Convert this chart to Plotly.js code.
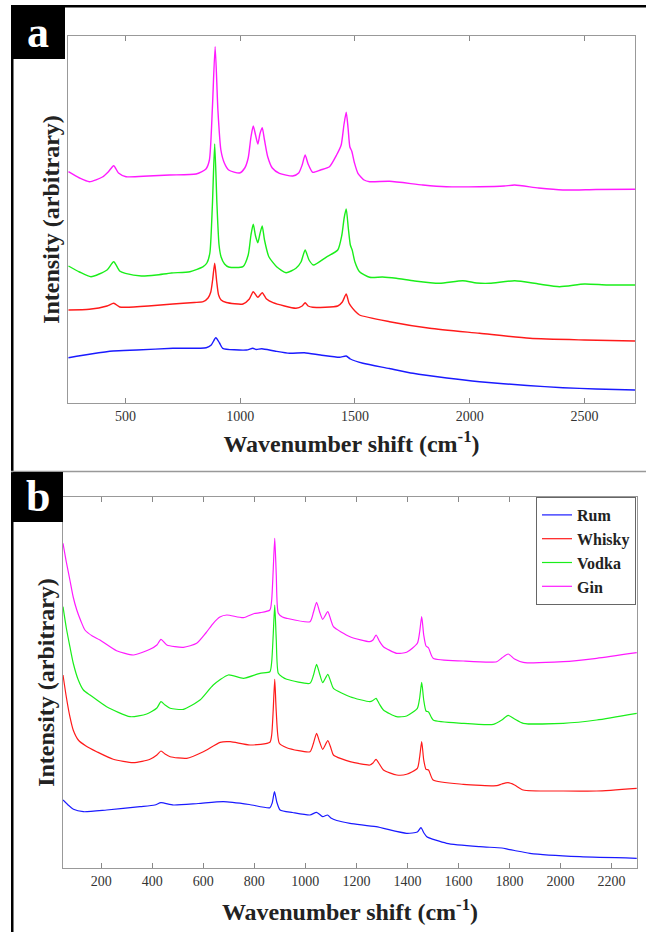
<!DOCTYPE html>
<html>
<head>
<meta charset="utf-8">
<script src="https://cdn.plot.ly/plotly-3.0.1.min.js"></script>
<style>html,body{margin:0;padding:0;background:#fff;}#chart{width:646px;height:932px;}</style>
</head>
<body>
<div id="chart"></div>
<script>
// ---------- Panel a data ----------
const aGinX = [252,300,343,400,425,449,470,503,600,692,808,851,866,879,891,903,916,931,950,997,1020,1035,1047,1057,1067,1077,1086,1096,1106,1120,1140,1171,1229,1255,1270,1283,1296,1316,1350,1389,1420,1440,1452,1462,1470,1478,1486,1498,1513,1540,1564,1651,1796,1898,2043,2150,2196,2300,2406,2550,2720];
const aGinY = [231.3,225,221.3,226,231,237.3,230,226.3,227,228,229,234,243,295,356.3,293,253,240,233,230,235,245,266,277,268,259,269,275.3,263,246.3,235,229.7,227,230,238,248,239,230.7,233,236.3,248,258,278,290.7,275,256,252,240,229.7,223,221.3,221.7,218,216.3,216.3,217,218,215,213,213.5,213.7];

const aVodkaX = [252,300,350,420,449,475,500,570,635,700,781,839,855,868,879,889,899,908,917,932,950,1012,1035,1047,1057,1067,1077,1086,1096,1106,1125,1160,1200,1243,1265,1283,1300,1319,1374,1425,1443,1453,1462,1471,1480,1488,1500,1520,1564,1620,1680,1760,1868,1970,2030,2087,2196,2300,2391,2500,2600,2720];
const aVodkaY = [137,131,126.3,133,141.3,132,129.7,127,128,130,131.3,136.3,140,150,198,259,198,158,146,139,136,136.3,148,168,178.7,167,160.3,169,177,163,146.3,136,130.3,134.7,141,153,143,138,145.7,153,168,185,194,175,158,153,141,131.3,125.7,126,124.7,122,119.7,122.3,120,119.7,122.3,119,116.3,119,118,118];

const aWhiskyX = [252,343,420,449,475,503,600,707,800,839,860,872,880,889,898,906,917,940,1012,1040,1057,1077,1096,1115,1143,1243,1270,1283,1296,1316,1425,1445,1462,1474,1484,1500,1520,1651,1826,2043,2262,2500,2720];
const aWhiskyY = [93,93.7,97,99.7,96,95.7,97,99,100.5,101.3,105,111,123,139.7,121,108,103,100.5,99,104,111.3,105.7,110.3,104,100.3,94.7,97,100.3,97,95.7,97,101,109,100,96.3,92,88,81.3,74.7,69.7,64.7,63,62];

const aRumX = [252,350,446,550,707,852,874,894,910,924,1027,1055,1070,1094,1150,1215,1280,1350,1433,1462,1480,1535,1650,1753,1900,2043,2250,2406,2550,2720];
const aRumY = [45.3,49,52,53,54.7,55.3,58,65.3,60,54.7,53,54.7,53.5,54.3,52,49.7,50.3,48,45.7,47,44,39.7,34.5,29.7,25,21.3,17.5,15.3,14,13];

// ---------- Panel b data ----------
const bGinX = [50,63,77,90,104,120,136,165,195,260,326,391,418,434,457,522,574,610,639,665,692,757,800,822,861,868,874,880,886,894,910,927,1018,1032,1044,1056,1068,1088,1100,1110,1175,1253,1265,1277,1290,1306,1358,1397,1439,1448,1456,1464,1473,1483,1501,1619,1750,1770,1795,1820,1854,2011,2142,2299];
const bGinY = [324.7,306,288,271,258,247,238,232,228,217.3,213,218.7,223,228.7,223,220.7,224.7,235,244.7,251,253,250.3,254.5,255.3,258,268,298,329.7,293,254.7,251,249.7,246.3,256,265.7,256,248.7,256.3,248,241.3,231.3,226.3,228,233,227,221.3,214.7,215.7,224.7,236,251.3,233,222,220,209.7,207,206.3,210,214,209,205.7,206.3,209.7,215.3];

const bVodkaX = [50,63,77,90,110,130,156,221,313,378,418,434,450,470,522,587,639,698,757,822,861,868,874,880,886,894,910,927,1018,1032,1044,1056,1068,1088,1100,1110,1175,1253,1265,1277,1290,1306,1358,1397,1439,1448,1456,1464,1473,1483,1501,1619,1737,1770,1795,1820,1854,2011,2142,2299];
const bVodkaY = [261.3,240,221.3,205,188,178,173,161.3,151.3,154,160,166.3,163,159.7,158.7,168,183,193,189.7,194.7,196.3,206,233,263,228,194.7,191,188.7,184.7,193,203.7,194,185.3,193.7,186,179.7,171.3,166.3,167.5,169.7,164,158,151.3,152,159.7,170,185.7,168,157,156,148,144.7,143.7,148,152.7,149,144.7,144.7,148,154.7];

const bWhiskyX = [50,63,77,90,110,140,182,247,326,391,418,434,450,470,535,600,666,705,783,861,868,874,880,886,898,927,1018,1032,1044,1056,1068,1088,1100,1110,1175,1253,1265,1277,1290,1306,1358,1397,1439,1448,1456,1464,1473,1483,1501,1619,1750,1770,1795,1820,1854,2011,2142,2299];
const bWhiskyY = [193,171,151.3,138,128,122,116.3,108.7,105.3,108.7,113,117,114,111.3,109.7,116.3,125.7,126.3,123,125.7,133,158,188.7,156,124.7,120.3,116.3,125,134.7,126,118.7,127.3,120,113,106.3,103,105,108.7,104,98,93,93.7,99.7,111,126.3,108,98.7,98,88,83.7,82.3,84,85.3,83,78,77,77,79.7];

const bRumX = [50,70,91,130,221,352,410,434,483,580,679,780,861,870,879,888,901,950,1018,1044,1068,1087,1100,1123,1175,1277,1397,1439,1453,1465,1476,1554,1684,1770,1795,1820,1880,2076,2299];
const bRumY = [68,63,58.7,56.3,58,61.3,63,65.3,63,64.5,66.3,63.5,60.3,65,76.3,66,58,55.5,53,55.7,51.3,53,50,47.5,44.7,41.3,34.7,36,40.3,35,31.3,24.7,21.3,20,18.7,17.5,14.7,11.3,9.7];

const seriesNames = ['Rum','Whisky','Vodka','Gin'];
const seriesColors = ['#1a1aff','#ff1a1a','#1aee1a','#ff1aff'];
const xTitle = 'Wavenumber shift (cm<sup>-1</sup>)';
const yTitle = 'Intensity (arbitrary)';
const panelLabels = ['a','b'];

// ---------- layout helpers ----------
const W = 646, H = 932;
const px = x => x / W;
const py = y => 1 - y / H;
const serif = 'Liberation Serif, Times New Roman, serif';

const aSets = [[aRumX,aRumY],[aWhiskyX,aWhiskyY],[aVodkaX,aVodkaY],[aGinX,aGinY]];
const bSets = [[bRumX,bRumY],[bWhiskyX,bWhiskyY],[bVodkaX,bVodkaY],[bGinX,bGinY]];
const traces = [];
aSets.forEach((s,i)=>traces.push({x:s[0],y:s[1],type:'scatter',mode:'lines',name:seriesNames[i],
  line:{color:seriesColors[i],width:1.4,shape:'spline',smoothing:0.6},xaxis:'x',yaxis:'y',showlegend:false}));
bSets.forEach((s,i)=>traces.push({x:s[0],y:s[1],type:'scatter',mode:'lines',name:seriesNames[i],
  line:{color:seriesColors[i],width:1.2,shape:'spline',smoothing:0.6},xaxis:'x2',yaxis:'y2',showlegend:true}));

const axisBase = {showgrid:false,zeroline:false,showline:true,linecolor:'#999',linewidth:1};
const xBase = Object.assign({},axisBase,{ticks:'inside',ticklen:5,tickcolor:'#888',mirror:'ticks',
  tickfont:{family:serif,size:14,color:'#333'}});
const yBase = Object.assign({},axisBase,{mirror:true,showticklabels:false,ticks:''});
const titleFont = {family:serif,size:24,color:'#222',weight:'bold'};

const layout = {
  width:W,height:H,margin:{l:0,r:0,t:0,b:0},paper_bgcolor:'#fff',plot_bgcolor:'#fff',
  xaxis:Object.assign({},xBase,{domain:[px(68),px(635)],anchor:'y',range:[250,2720],tickvals:[500,1000,1500,2000,2500],
    title:{text:xTitle,font:titleFont,standoff:12}}),
  yaxis:Object.assign({},yBase,{domain:[py(403),py(36)],anchor:'x',range:[0,367],
    title:{text:yTitle,font:titleFont,standoff:0}}),
  xaxis2:Object.assign({},xBase,{domain:[px(63),px(637)],anchor:'y2',range:[50,2300],
    tickvals:[200,400,600,800,1000,1200,1400,1600,1800,2000,2200],
    title:{text:xTitle,font:titleFont,standoff:15}}),
  yaxis2:Object.assign({},yBase,{domain:[py(868),py(497)],anchor:'x2',range:[0,371],
    title:{text:yTitle,font:titleFont,standoff:0}}),
  showlegend:true,
  legend:{x:px(636),y:py(497),xanchor:'right',yanchor:'top',bgcolor:'#fff',bordercolor:'#666',borderwidth:1,
    font:{family:serif,size:16,color:'#222',weight:'bold'},tracegroupgap:0},
  shapes:[
    {type:'rect',xref:'paper',yref:'paper',x0:px(11),x1:px(646),y0:py(5),y1:py(7.5),fillcolor:'#000',line:{width:0}},
    {type:'rect',xref:'paper',yref:'paper',x0:px(11),x1:px(13.5),y0:py(5),y1:py(932),fillcolor:'#000',line:{width:0}},
    {type:'line',xref:'paper',yref:'paper',x0:px(11),x1:px(646),y0:py(471.5),y1:py(471.5),line:{color:'#999',width:1.5}},
    {type:'rect',xref:'paper',yref:'paper',x0:px(11),x1:px(65),y0:py(5),y1:py(59),fillcolor:'#000',line:{width:0}},
    {type:'rect',xref:'paper',yref:'paper',x0:px(13),x1:px(63),y0:py(472),y1:py(522),fillcolor:'#000',line:{width:0}}
  ],
  annotations:[
    {xref:'paper',yref:'paper',x:px(38),y:py(32),text:panelLabels[0],showarrow:false,xanchor:'center',yanchor:'middle',
      font:{family:serif,size:44,color:'#fff',weight:'bold'}},
    {xref:'paper',yref:'paper',x:px(38),y:py(496),text:panelLabels[1],showarrow:false,xanchor:'center',yanchor:'middle',
      font:{family:serif,size:44,color:'#fff',weight:'bold'}}
  ]
};
Plotly.newPlot('chart',traces,layout,{staticPlot:true,displayModeBar:false});
</script>
</body>
</html>
